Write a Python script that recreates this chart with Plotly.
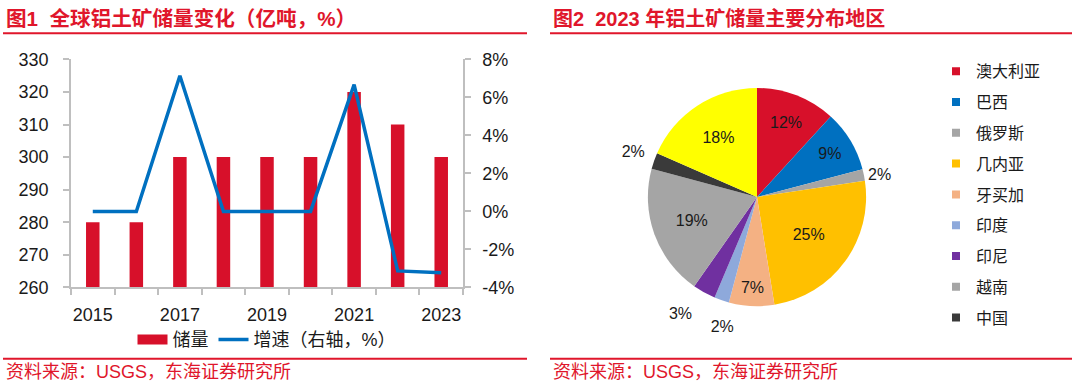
import plotly.graph_objects as go

# ---------------- data ----------------
years = [2015, 2016, 2017, 2018, 2019, 2020, 2021, 2022, 2023]
reserves = [280, 280, 300, 300, 300, 300, 320, 310, 300]          # 亿吨
growth = [0.0, 0.0, 7.14, 0.0, 0.0, 0.0, 6.67, -3.13, -3.23]       # %
year_ticks = [2015, 2017, 2019, 2021, 2023]
left_ticks = [260, 270, 280, 290, 300, 310, 320, 330]
right_ticks = [-4, -2, 0, 2, 4, 6, 8]
right_tick_text = ["-4%", "-2%", "0%", "2%", "4%", "6%", "8%"]

regions = ["澳大利亚", "巴西", "俄罗斯", "几内亚", "牙买加", "印度", "印尼", "越南", "中国", "其他"]
shares = [11.8, 9.1, 1.7, 24.8, 6.7, 2.2, 3.4, 19.4, 2.4, 18.4]
region_colors = ["#D7102A", "#0070C0", "#A5A5A5", "#FFC000", "#F4B183",
                 "#8EA9DB", "#7030A0", "#A5A5A5", "#3A3A3A", "#FFFF00"]
legend_regions = regions[:9]

# which slice labels sit inside / outside, and on which label layer
inside_labels = ["澳大利亚", "巴西", "几内亚", "牙买加", "越南", "其他"]
label_layers = [  # (outside labels in this layer, extra radius px, rotation deg)
    (["俄罗斯"], 0, 0),
    (["中国"], 8, 3),
    (["印尼"], 17, 0),
    (["印度"], 14, -10),
]

RED = "#E0162B"
BAR_RED = "#D7102A"
BLUE = "#0070C0"
AXIS = "#BFBFBF"
FONT = "Liberation Sans, Arial, Noto Sans CJK SC, sans-serif"

W, H = 1080, 390
VS = 0.944  # vertical squeeze observed in the captured picture (about its middle)
def px(x):
    return x / W
def fy(y):
    """figure pixel row for a target row in the captured picture"""
    return H / 2 + (y - H / 2) / VS
def py(y):
    return 1 - fy(y) / H

fig = go.Figure()

fig.add_trace(go.Bar(x=years, y=reserves, marker=dict(color=BAR_RED, line=dict(width=0)),
                     width=0.31, showlegend=False, xaxis="x", yaxis="y"))
fig.add_trace(go.Scatter(x=years, y=growth, mode="lines", line=dict(color=BLUE, width=3.5),
                         showlegend=False, xaxis="x", yaxis="y2"))
# legend entries for chart 1
fig.add_trace(go.Scatter(x=[None], y=[None], mode="lines", name="储量",
                         line=dict(color=BAR_RED, width=10), legend="legend"))
fig.add_trace(go.Scatter(x=[None], y=[None], mode="lines", name="增速（右轴，%）",
                         line=dict(color=BLUE, width=3.5), legend="legend"))

CX, CY, R = 757, 197, 115
def dom(r):
    cy = fy(CY)
    return dict(x=[px(CX - r), px(CX + r)], y=[1 - (cy + r) / H, 1 - (cy - r) / H])
pie_font = dict(size=16, color="#1a1a1a", family=FONT)
fig.add_trace(go.Pie(labels=regions, values=shares, sort=False, direction="clockwise",
                     rotation=0, marker=dict(colors=region_colors, line=dict(width=0)),
                     textposition=["inside" if r in inside_labels else "none" for r in regions],
                     texttemplate="%{percent:.0%}", insidetextorientation="horizontal",
                     textfont=pie_font, domain=dom(R), showlegend=False,
                     hoverinfo="label+percent"))
for names, extra, rot in label_layers:
    fig.add_trace(go.Pie(labels=regions, values=shares, sort=False, direction="clockwise",
                         rotation=rot, marker=dict(colors=["rgba(0,0,0,0)"] * len(regions),
                                                   line=dict(width=0)),
                         textposition=["outside" if r in names else "none" for r in regions],
                         texttemplate="%{percent:.0%}",
                         textfont=pie_font, outsidetextfont=pie_font,
                         domain=dom(R + extra), showlegend=False, hoverinfo="skip"))
# legend entries for chart 2
for i, name in enumerate(legend_regions):
    fig.add_trace(go.Scatter(x=[None], y=[None], mode="markers", name=name,
                             marker=dict(symbol="square", size=8, color=region_colors[i]),
                             legend="legend2", legendgroup=name))

fig.update_layout(
    width=W, height=H, autosize=False, margin=dict(l=0, r=0, t=0, b=0),
    paper_bgcolor="white", plot_bgcolor="white",
    font=dict(family=FONT, size=18, color="#1a1a1a"),
    bargap=0.7,
    xaxis=dict(domain=[px(71), px(463)], range=[2014.5, 2023.5],
               tickvals=year_ticks, ticks="", ticklabelstandoff=10,
               showline=True, linecolor=AXIS, linewidth=1.5, showgrid=False, zeroline=False,
               tickfont=dict(size=18),
               minor=dict(ticks="outside", ticklen=6, tickcolor=AXIS, tickwidth=1.5,
                          tick0=2014.5, dtick=1, showgrid=False)),
    yaxis=dict(domain=[py(287), py(60)], range=[260, 330], tickvals=left_ticks,
               ticks="outside", ticklen=6, tickcolor=AXIS, tickwidth=1.5,
               ticklabelstandoff=11,
               showline=True, linecolor=AXIS, linewidth=1.5, showgrid=False, zeroline=False,
               tickfont=dict(size=18)),
    yaxis2=dict(overlaying="y", side="right", anchor="x", range=[-4, 8],
                tickvals=right_ticks, ticktext=right_tick_text,
                ticks="outside", ticklen=6, tickcolor=AXIS, tickwidth=1.5,
                ticklabelstandoff=8,
                showline=True, linecolor=AXIS, linewidth=1.5, showgrid=False, zeroline=False,
                tickfont=dict(size=18)),
    legend=dict(orientation="h", x=px(267), xanchor="center", y=py(339), yanchor="middle",
                font=dict(size=18), bgcolor="rgba(0,0,0,0)", itemwidth=30,
                traceorder="normal"),
    legend2=dict(orientation="v", x=px(936), xanchor="left", y=py(55), yanchor="top",
                 font=dict(size=16), bgcolor="rgba(0,0,0,0)", itemwidth=30,
                 tracegroupgap=7, traceorder="grouped"),
)

# titles, rules and sources
fig.add_annotation(text="<b>图1  全球铝土矿储量变化（亿吨，%）</b>", xref="paper", yref="paper",
                   x=px(4), y=py(19.5), xanchor="left", yanchor="middle", showarrow=False,
                   font=dict(size=20.6, color=RED, family=FONT))
fig.add_annotation(text="<b>图2  2023 年铝土矿储量主要分布地区</b>", xref="paper", yref="paper",
                   x=px(551), y=py(19.5), xanchor="left", yanchor="middle", showarrow=False,
                   font=dict(size=20, color=RED, family=FONT))
for x0, x1 in [(3, 527), (550, 1072)]:
    for yy in (34, 358):
        fig.add_shape(type="line", xref="paper", yref="paper", x0=px(x0), x1=px(x1),
                      y0=py(yy), y1=py(yy), line=dict(color=RED, width=2))
for xx in (4, 551):
    fig.add_annotation(text="资料来源：USGS，东海证券研究所", xref="paper", yref="paper",
                       x=px(xx), y=py(371), xanchor="left", yanchor="middle", showarrow=False,
                       font=dict(size=18, color=RED, family=FONT))

fig.write_html("out.html", config={"displayModeBar": False, "responsive": False},
               post_script="document.body.style.margin='0';"
                           "document.body.style.overflow='hidden';"
                           "document.documentElement.style.overflow='hidden';")
